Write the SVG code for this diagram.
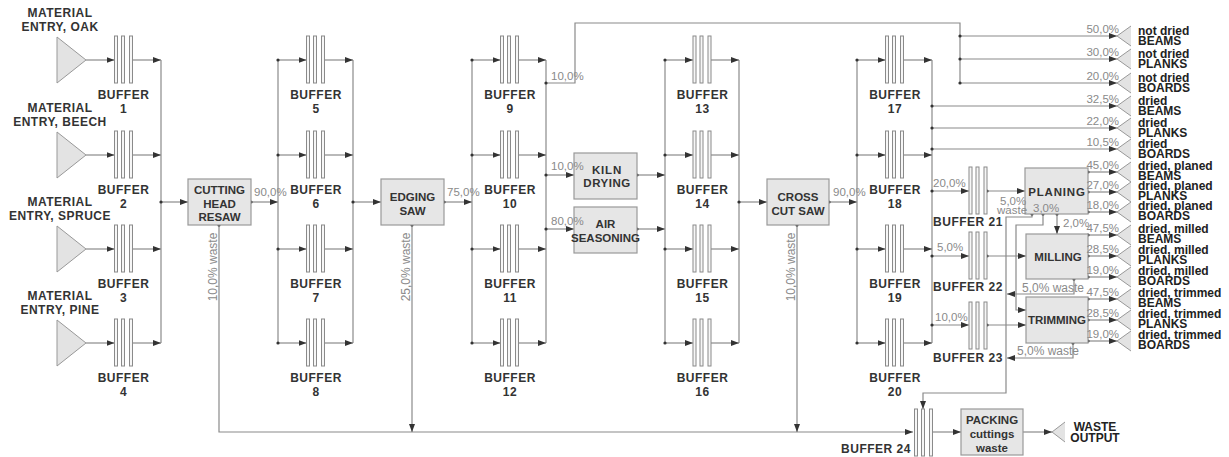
<svg xmlns="http://www.w3.org/2000/svg" xmlns:xlink="http://www.w3.org/1999/xlink" width="1229" height="457" viewBox="0 0 1229 457">
<style>
.ln{fill:none;stroke:#8a8a8a;stroke-width:1.2}
.ar{marker-end:url(#ah)}
.dot{fill:#333}
.bar{fill:#f6f6f6;stroke:#8a8a8a;stroke-width:1}
.box{fill:#e6e6e6;stroke:#999;stroke-width:1.2}
.tri{fill:#e3e3e3;stroke:#999;stroke-width:1}
.lbl{font-family:"Liberation Sans",Arial,sans-serif;font-weight:bold;font-size:12px;fill:#333;letter-spacing:0.5px;text-anchor:middle}
.bt{font-family:"Liberation Sans",Arial,sans-serif;font-weight:bold;font-size:11.5px;fill:#333;text-anchor:middle}
.pct{font-family:"Liberation Sans",Arial,sans-serif;font-size:11.5px;fill:#8a8a8a}
.pe{font-family:"Liberation Sans",Arial,sans-serif;font-size:11.5px;fill:#8a8a8a;text-anchor:end}
.wst{font-family:"Liberation Sans",Arial,sans-serif;font-size:12px;fill:#8a8a8a;text-anchor:middle}
.out{font-family:"Liberation Sans",Arial,sans-serif;font-weight:bold;font-size:12px;fill:#222}
</style>
<defs>
<marker id="ah" markerWidth="8" markerHeight="6" refX="8" refY="3" orient="auto" markerUnits="userSpaceOnUse"><path d="M0,0 L8,3 L0,6 z" fill="#333"/></marker>
<g id="buf"><rect class="bar" x="0" y="0" width="3" height="47"/><rect class="bar" x="7" y="0" width="3" height="47"/><rect class="bar" x="15" y="0" width="3" height="47"/></g>
<path id="otri" class="tri" d="M1131,-10 L1117,0 L1131,10"/>
</defs>
<rect width="1229" height="457" fill="#fff"/>

<g id="connectors">
<path class="ln ar" d="M86,60H114.5"/><path class="ln ar" d="M132.5,60H161"/>
<path class="ln ar" d="M86,155H114.5"/><path class="ln ar" d="M132.5,155H161"/>
<path class="ln ar" d="M86,249H114.5"/><path class="ln ar" d="M132.5,249H161"/>
<path class="ln ar" d="M86,343H114.5"/><path class="ln ar" d="M132.5,343H161"/>
<path class="ln" d="M161,60V343"/>
<path class="ln ar" d="M161,202H188"/><circle class="dot" cx="161" cy="202" r="1.6"/>
<path class="ln ar" d="M251,202H278"/><circle class="dot" cx="251" cy="202" r="1.6"/>
<path class="ln" d="M278,60V343"/><path class="ln" d="M353,60V343"/>
<path class="ln ar" d="M278,60H306.5"/><path class="ln ar" d="M324.5,60H353"/>
<path class="ln ar" d="M278,155H306.5"/><path class="ln ar" d="M324.5,155H353"/>
<path class="ln ar" d="M278,249H306.5"/><path class="ln ar" d="M324.5,249H353"/>
<path class="ln ar" d="M278,343H306.5"/><path class="ln ar" d="M324.5,343H353"/>
<circle class="dot" cx="278" cy="60" r="1.6"/><circle class="dot" cx="278" cy="155" r="1.6"/><circle class="dot" cx="278" cy="249" r="1.6"/><circle class="dot" cx="278" cy="343" r="1.6"/>
<path class="ln ar" d="M353,202H381"/><circle class="dot" cx="353" cy="202" r="1.6"/>
<path class="ln ar" d="M444,202H472"/><circle class="dot" cx="444" cy="202" r="1.6"/>
<path class="ln" d="M472,60V343"/><path class="ln" d="M546,60V343"/>
<path class="ln ar" d="M472,60H500.5"/><path class="ln ar" d="M518.5,60H546"/>
<path class="ln ar" d="M472,155H500.5"/><path class="ln ar" d="M518.5,155H546"/>
<path class="ln ar" d="M472,249H500.5"/><path class="ln ar" d="M518.5,249H546"/>
<path class="ln ar" d="M472,343H500.5"/><path class="ln ar" d="M518.5,343H546"/>
<circle class="dot" cx="472" cy="60" r="1.6"/><circle class="dot" cx="472" cy="155" r="1.6"/><circle class="dot" cx="472" cy="249" r="1.6"/><circle class="dot" cx="472" cy="343" r="1.6"/>
<path class="ln" d="M546,83H575V23H960V83"/><circle class="dot" cx="546" cy="83" r="1.6"/>
<path class="ln ar" d="M960,36H1117"/><path class="ln ar" d="M960,59H1117"/><path class="ln ar" d="M960,83H1117"/>
<circle class="dot" cx="960" cy="36" r="1.6"/><circle class="dot" cx="960" cy="59" r="1.6"/><circle class="dot" cx="960" cy="83" r="1.6"/>
<path class="ln ar" d="M546,175H574"/><circle class="dot" cx="546" cy="175" r="1.6"/>
<path class="ln ar" d="M546,229H574"/><circle class="dot" cx="546" cy="229" r="1.6"/>
<path class="ln ar" d="M637,175H665"/><circle class="dot" cx="637" cy="175" r="1.6"/>
<path class="ln ar" d="M637,229H665"/><circle class="dot" cx="637" cy="229" r="1.6"/>
<path class="ln" d="M665,60V343"/><path class="ln" d="M739,60V343"/>
<path class="ln ar" d="M665,60H693"/><path class="ln ar" d="M711,60H739"/>
<path class="ln ar" d="M665,155H693"/><path class="ln ar" d="M711,155H739"/>
<path class="ln ar" d="M665,249H693"/><path class="ln ar" d="M711,249H739"/>
<path class="ln ar" d="M665,343H693"/><path class="ln ar" d="M711,343H739"/>
<circle class="dot" cx="665" cy="60" r="1.6"/><circle class="dot" cx="665" cy="155" r="1.6"/><circle class="dot" cx="665" cy="249" r="1.6"/><circle class="dot" cx="665" cy="343" r="1.6"/>
<path class="ln ar" d="M739,202H767"/><circle class="dot" cx="739" cy="202" r="1.6"/>
<path class="ln ar" d="M829,202H857"/><circle class="dot" cx="829" cy="202" r="1.6"/>
<path class="ln" d="M857,60V343"/><path class="ln" d="M932,60V343"/>
<path class="ln ar" d="M857,60H885.5"/><path class="ln ar" d="M903.5,60H932"/>
<path class="ln ar" d="M857,155H885.5"/><path class="ln ar" d="M903.5,155H932"/>
<path class="ln ar" d="M857,249H885.5"/><path class="ln ar" d="M903.5,249H932"/>
<path class="ln ar" d="M857,343H885.5"/><path class="ln ar" d="M903.5,343H932"/>
<circle class="dot" cx="857" cy="60" r="1.6"/><circle class="dot" cx="857" cy="155" r="1.6"/><circle class="dot" cx="857" cy="249" r="1.6"/><circle class="dot" cx="857" cy="343" r="1.6"/>
<path class="ln ar" d="M932,106H1117"/><path class="ln ar" d="M932,128H1117"/><path class="ln ar" d="M932,149H1117"/>
<circle class="dot" cx="932" cy="106" r="1.6"/><circle class="dot" cx="932" cy="128" r="1.6"/><circle class="dot" cx="932" cy="149" r="1.6"/>
<path class="ln ar" d="M932,191H969"/><circle class="dot" cx="932" cy="191" r="1.6"/>
<path class="ln ar" d="M932,256H969"/><circle class="dot" cx="932" cy="256" r="1.6"/>
<path class="ln ar" d="M932,325H969"/><circle class="dot" cx="932" cy="325" r="1.6"/>
<path class="ln ar" d="M987,191H1025"/><circle class="dot" cx="987" cy="191" r="1.6"/>
<path class="ln ar" d="M987,256H1026"/><circle class="dot" cx="987" cy="256" r="1.6"/>
<path class="ln ar" d="M987,325H1026"/><circle class="dot" cx="987" cy="325" r="1.6"/>
<path class="ln ar" d="M1088,172H1117"/><path class="ln ar" d="M1088,192H1117"/><path class="ln ar" d="M1088,212H1117"/>
<path class="ln ar" d="M1088,235H1117"/><path class="ln ar" d="M1088,256H1117"/><path class="ln ar" d="M1088,277H1117"/>
<path class="ln ar" d="M1088,299H1117"/><path class="ln ar" d="M1088,320H1117"/><path class="ln ar" d="M1088,341H1117"/>
<circle class="dot" cx="1088" cy="172" r="1.6"/><circle class="dot" cx="1088" cy="192" r="1.6"/><circle class="dot" cx="1088" cy="212" r="1.6"/>
<circle class="dot" cx="1088" cy="235" r="1.6"/><circle class="dot" cx="1088" cy="256" r="1.6"/><circle class="dot" cx="1088" cy="277" r="1.6"/>
<circle class="dot" cx="1088" cy="299" r="1.6"/><circle class="dot" cx="1088" cy="320" r="1.6"/><circle class="dot" cx="1088" cy="341" r="1.6"/>
<path class="ln ar" d="M1057,214V234"/><circle class="dot" cx="1057" cy="214" r="1.6"/>
<path class="ln ar" d="M1043,214V225H1016V310H1026"/><circle class="dot" cx="1043" cy="214" r="1.6"/>
<path class="ln ar" d="M1032,214V217H1006V393H923V409"/><circle class="dot" cx="1032" cy="214" r="1.6"/>
<path class="ln ar" d="M1074,279V294H1007"/><circle class="dot" cx="1074" cy="279" r="1.6"/>
<path class="ln ar" d="M1073,343V358H1007"/><circle class="dot" cx="1073" cy="343" r="1.6"/>
<path class="ln ar" d="M219,225V432H913"/><circle class="dot" cx="219" cy="225" r="1.6"/>
<path class="ln ar" d="M412,225V432"/><circle class="dot" cx="412" cy="225" r="1.6"/>
<path class="ln ar" d="M797,225V432"/><circle class="dot" cx="797" cy="225" r="1.6"/>
<path class="ln ar" d="M933,432H961"/>
<path class="ln ar" d="M1023,432H1052"/>
</g>

<g id="entry-oak"><path class="tri" d="M57,37L86,60L57,83z"/><text class="lbl" x="60" y="17">MATERIAL</text><text class="lbl" x="60" y="31">ENTRY, OAK</text></g>
<g id="entry-beech"><path class="tri" d="M57,132L86,155L57,178z"/><text class="lbl" x="60" y="112">MATERIAL</text><text class="lbl" x="60" y="126">ENTRY, BEECH</text></g>
<g id="entry-spruce"><path class="tri" d="M57,226L86,249L57,272z"/><text class="lbl" x="60" y="206">MATERIAL</text><text class="lbl" x="60" y="220">ENTRY, SPRUCE</text></g>
<g id="entry-pine"><path class="tri" d="M57,320L86,343L57,366z"/><text class="lbl" x="60" y="300">MATERIAL</text><text class="lbl" x="60" y="314">ENTRY, PINE</text></g>

<g id="buffer1"><use xlink:href="#buf" x="114.5" y="36"/><text class="lbl" x="123.5" y="99">BUFFER</text><text class="lbl" x="123.5" y="113">1</text></g>
<g id="buffer2"><use xlink:href="#buf" x="114.5" y="131"/><text class="lbl" x="123.5" y="194">BUFFER</text><text class="lbl" x="123.5" y="208">2</text></g>
<g id="buffer3"><use xlink:href="#buf" x="114.5" y="225"/><text class="lbl" x="123.5" y="288">BUFFER</text><text class="lbl" x="123.5" y="302">3</text></g>
<g id="buffer4"><use xlink:href="#buf" x="114.5" y="319"/><text class="lbl" x="123.5" y="382">BUFFER</text><text class="lbl" x="123.5" y="396">4</text></g>
<g id="buffer5"><use xlink:href="#buf" x="306.5" y="36"/><text class="lbl" x="316" y="99">BUFFER</text><text class="lbl" x="316" y="113">5</text></g>
<g id="buffer6"><use xlink:href="#buf" x="306.5" y="131"/><text class="lbl" x="316" y="194">BUFFER</text><text class="lbl" x="316" y="208">6</text></g>
<g id="buffer7"><use xlink:href="#buf" x="306.5" y="225"/><text class="lbl" x="316" y="288">BUFFER</text><text class="lbl" x="316" y="302">7</text></g>
<g id="buffer8"><use xlink:href="#buf" x="306.5" y="319"/><text class="lbl" x="316" y="382">BUFFER</text><text class="lbl" x="316" y="396">8</text></g>
<g id="buffer9"><use xlink:href="#buf" x="500.5" y="36"/><text class="lbl" x="510" y="99">BUFFER</text><text class="lbl" x="510" y="113">9</text></g>
<g id="buffer10"><use xlink:href="#buf" x="500.5" y="131"/><text class="lbl" x="510" y="194">BUFFER</text><text class="lbl" x="510" y="208">10</text></g>
<g id="buffer11"><use xlink:href="#buf" x="500.5" y="225"/><text class="lbl" x="510" y="288">BUFFER</text><text class="lbl" x="510" y="302">11</text></g>
<g id="buffer12"><use xlink:href="#buf" x="500.5" y="319"/><text class="lbl" x="510" y="382">BUFFER</text><text class="lbl" x="510" y="396">12</text></g>
<g id="buffer13"><use xlink:href="#buf" x="693" y="36"/><text class="lbl" x="702.5" y="99">BUFFER</text><text class="lbl" x="702.5" y="113">13</text></g>
<g id="buffer14"><use xlink:href="#buf" x="693" y="131"/><text class="lbl" x="702.5" y="194">BUFFER</text><text class="lbl" x="702.5" y="208">14</text></g>
<g id="buffer15"><use xlink:href="#buf" x="693" y="225"/><text class="lbl" x="702.5" y="288">BUFFER</text><text class="lbl" x="702.5" y="302">15</text></g>
<g id="buffer16"><use xlink:href="#buf" x="693" y="319"/><text class="lbl" x="702.5" y="382">BUFFER</text><text class="lbl" x="702.5" y="396">16</text></g>
<g id="buffer17"><use xlink:href="#buf" x="885.5" y="36"/><text class="lbl" x="895" y="99">BUFFER</text><text class="lbl" x="895" y="113">17</text></g>
<g id="buffer18"><use xlink:href="#buf" x="885.5" y="131"/><text class="lbl" x="895" y="194">BUFFER</text><text class="lbl" x="895" y="208">18</text></g>
<g id="buffer19"><use xlink:href="#buf" x="885.5" y="225"/><text class="lbl" x="895" y="288">BUFFER</text><text class="lbl" x="895" y="302">19</text></g>
<g id="buffer20"><use xlink:href="#buf" x="885.5" y="319"/><text class="lbl" x="895" y="382">BUFFER</text><text class="lbl" x="895" y="396">20</text></g>
<g id="buffer21"><use xlink:href="#buf" x="969" y="167"/><text class="lbl" x="968" y="226">BUFFER 21</text></g>
<g id="buffer22"><use xlink:href="#buf" x="969" y="232"/><text class="lbl" x="968" y="291">BUFFER 22</text></g>
<g id="buffer23"><use xlink:href="#buf" x="969" y="302"/><text class="lbl" x="968" y="362">BUFFER 23</text></g>
<g id="buffer24"><use xlink:href="#buf" x="914.5" y="409"/><text class="lbl" x="876" y="453">BUFFER 24</text></g>

<g id="cutting-head-resaw"><rect class="box" x="188" y="179" width="63" height="46"/><text class="bt" x="219.5" y="194">CUTTING</text><text class="bt" x="219.5" y="207.5">HEAD</text><text class="bt" x="219.5" y="221">RESAW</text></g>
<g id="edging-saw"><rect class="box" x="381" y="179" width="63" height="46"/><text class="bt" x="412.5" y="201">EDGING</text><text class="bt" x="412.5" y="215">SAW</text></g>
<g id="kiln-drying"><rect class="box" x="574" y="153" width="63" height="46"/><text class="bt" x="607" y="174" style="letter-spacing:0.8px">KILN</text><text class="bt" x="607" y="187" style="letter-spacing:0.5px">DRYING</text></g>
<g id="air-seasoning"><rect class="box" x="574" y="207" width="63" height="46"/><text class="bt" x="605.5" y="228">AIR</text><text class="bt" x="605.5" y="242">SEASONING</text></g>
<g id="cross-cut-saw"><rect class="box" x="767" y="179" width="62" height="46"/><text class="bt" x="798" y="201">CROSS</text><text class="bt" x="798" y="215">CUT SAW</text></g>
<g id="planing"><rect class="box" x="1025" y="168" width="63" height="46"/><text class="bt" x="1057" y="196" style="letter-spacing:0.8px">PLANING</text></g>
<g id="milling"><rect class="box" x="1026" y="234" width="62" height="45"/><text class="bt" x="1058" y="261">MILLING</text></g>
<g id="trimming"><rect class="box" x="1026" y="297" width="62" height="46"/><text class="bt" x="1057" y="324">TRIMMING</text></g>
<g id="packing"><rect class="box" x="961" y="409" width="62" height="46"/><text class="bt" x="992" y="424">PACKING</text><text class="bt" x="992" y="438">cuttings</text><text class="bt" x="992" y="452">waste</text></g>

<g id="out-nd-beams"><use xlink:href="#otri" y="36"/><text class="out" x="1138" y="34.5">not dried</text><text class="out" x="1138" y="44.5">BEAMS</text></g>
<g id="out-nd-planks"><use xlink:href="#otri" y="59"/><text class="out" x="1138" y="57.5">not dried</text><text class="out" x="1138" y="67.5">PLANKS</text></g>
<g id="out-nd-boards"><use xlink:href="#otri" y="83"/><text class="out" x="1138" y="81.5">not dried</text><text class="out" x="1138" y="91.5">BOARDS</text></g>
<g id="out-d-beams"><use xlink:href="#otri" y="106"/><text class="out" x="1138" y="104.5">dried</text><text class="out" x="1138" y="114.5">BEAMS</text></g>
<g id="out-d-planks"><use xlink:href="#otri" y="128"/><text class="out" x="1138" y="126.5">dried</text><text class="out" x="1138" y="136.5">PLANKS</text></g>
<g id="out-d-boards"><use xlink:href="#otri" y="149"/><text class="out" x="1138" y="147.5">dried</text><text class="out" x="1138" y="157.5">BOARDS</text></g>
<g id="out-p-beams"><use xlink:href="#otri" y="172"/><text class="out" x="1138" y="170">dried, planed</text><text class="out" x="1138" y="180">BEAMS</text></g>
<g id="out-p-planks"><use xlink:href="#otri" y="192"/><text class="out" x="1138" y="190">dried, planed</text><text class="out" x="1138" y="200">PLANKS</text></g>
<g id="out-p-boards"><use xlink:href="#otri" y="212"/><text class="out" x="1138" y="210">dried, planed</text><text class="out" x="1138" y="220">BOARDS</text></g>
<g id="out-m-beams"><use xlink:href="#otri" y="235"/><text class="out" x="1138" y="233">dried, milled</text><text class="out" x="1138" y="243">BEAMS</text></g>
<g id="out-m-planks"><use xlink:href="#otri" y="256"/><text class="out" x="1138" y="254">dried, milled</text><text class="out" x="1138" y="264">PLANKS</text></g>
<g id="out-m-boards"><use xlink:href="#otri" y="277"/><text class="out" x="1138" y="275">dried, milled</text><text class="out" x="1138" y="285">BOARDS</text></g>
<g id="out-t-beams"><use xlink:href="#otri" y="299"/><text class="out" x="1138" y="297">dried, trimmed</text><text class="out" x="1138" y="307">BEAMS</text></g>
<g id="out-t-planks"><use xlink:href="#otri" y="320"/><text class="out" x="1138" y="318">dried, trimmed</text><text class="out" x="1138" y="328">PLANKS</text></g>
<g id="out-t-boards"><use xlink:href="#otri" y="341"/><text class="out" x="1138" y="339">dried, trimmed</text><text class="out" x="1138" y="349">BOARDS</text></g>
<g id="waste-output"><path class="tri" d="M1065,422L1052,432L1065,442"/><text class="out" x="1095" y="431" text-anchor="middle">WASTE</text><text class="out" x="1095" y="442" text-anchor="middle">OUTPUT</text></g>

<g id="connector-labels">
<text class="pct" x="254" y="196">90,0%</text>
<text class="pct" x="447" y="196">75,0%</text>
<text class="pct" x="551" y="80">10,0%</text>
<text class="pct" x="551" y="170">10,0%</text>
<text class="pct" x="551" y="225">80,0%</text>
<text class="pct" x="833" y="196">90,0%</text>
<text class="pct" x="933" y="187">20,0%</text>
<text class="pct" x="937" y="251">5,0%</text>
<text class="pct" x="935" y="321">10,0%</text>
<text class="pct" x="1000" y="205">5,0%</text>
<text class="pct" x="997" y="214">waste</text>
<text class="pct" x="1033" y="212">3,0%</text>
<text class="pct" x="1063" y="227">2,0%</text>
<text class="wst" x="1053" y="292">5,0% waste</text>
<text class="wst" x="1048" y="355">5,0% waste</text>
<text class="wst" transform="translate(217,267) rotate(-90)">10,0% waste</text>
<text class="wst" transform="translate(410,267) rotate(-90)">25,0% waste</text>
<text class="wst" transform="translate(795,267) rotate(-90)">10,0% waste</text>
<text class="pe" x="1119" y="33">50,0%</text>
<text class="pe" x="1119" y="56">30,0%</text>
<text class="pe" x="1119" y="80">20,0%</text>
<text class="pe" x="1119" y="103">32,5%</text>
<text class="pe" x="1119" y="125">22,0%</text>
<text class="pe" x="1119" y="146">10,5%</text>
<text class="pe" x="1119" y="169">45,0%</text>
<text class="pe" x="1119" y="189">27,0%</text>
<text class="pe" x="1119" y="209">18,0%</text>
<text class="pe" x="1119" y="232">47,5%</text>
<text class="pe" x="1119" y="253">28,5%</text>
<text class="pe" x="1119" y="274">19,0%</text>
<text class="pe" x="1119" y="296">47,5%</text>
<text class="pe" x="1119" y="317">28,5%</text>
<text class="pe" x="1119" y="338">19,0%</text>
</g>
</svg>
